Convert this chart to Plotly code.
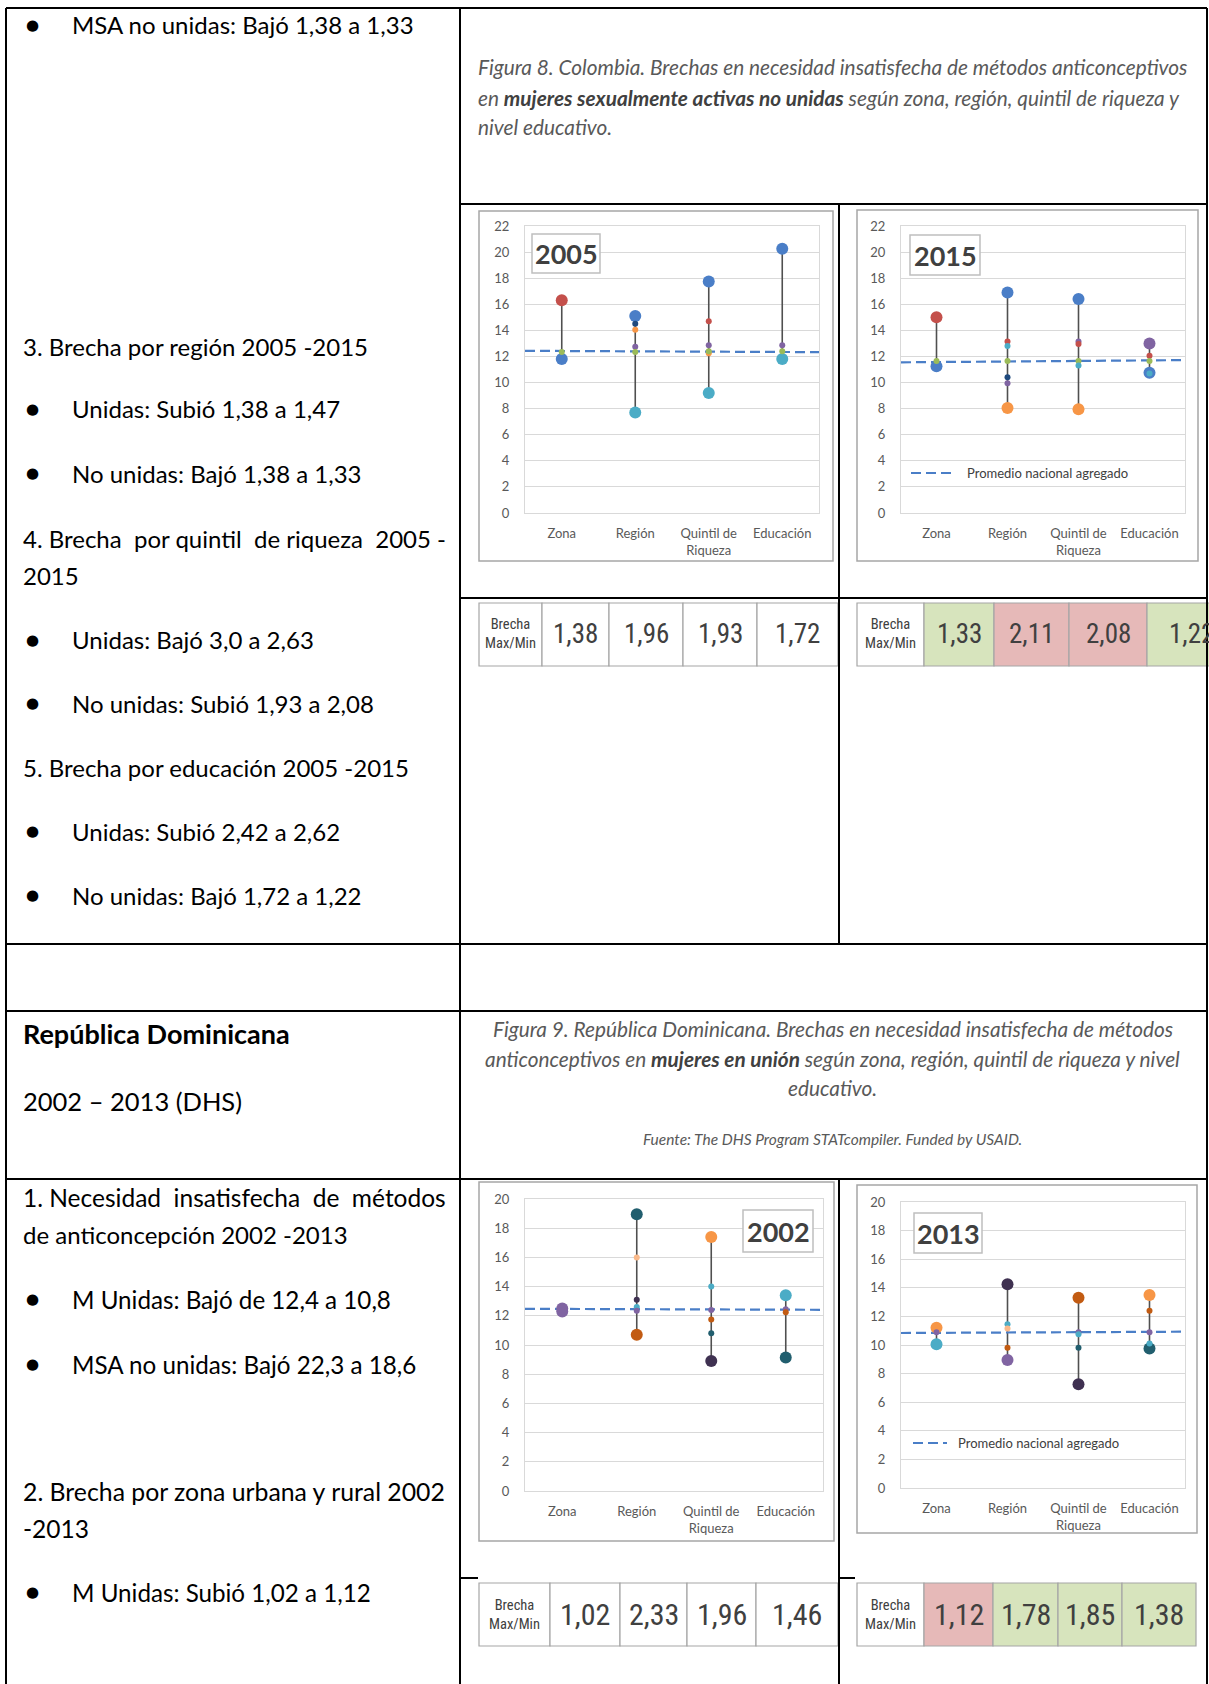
import plotly.graph_objects as go

W, H = 1209, 1684

# ---------------- DATA ----------------
categories = ["Zona", "Región", "Quintil de<br>Riqueza", "Educación"]

# Colombia, mujeres sexualmente activas no unidas (first two values of each list = max / min endpoints)
col2005_zona = [16.3, 11.8, 12.35]
col2005_region = [15.1, 7.7, 14.5, 14.05, 12.75, 12.35]
col2005_quintil = [17.75, 9.2, 14.7, 12.85, 12.25, 12.4]
col2005_educacion = [20.25, 11.8, 12.85, 12.4]
col2005_promedio = [12.43, 12.33]

col2015_zona = [15.0, 11.25, 11.65]
col2015_region = [16.9, 8.05, 13.15, 12.8, 11.65, 10.4, 9.95]
col2015_quintil = [16.4, 7.95, 13.15, 12.95, 11.65, 11.3]
col2015_educacion = [13.0, 10.75, 12.05, 11.65, 10.7]
col2015_promedio = [11.55, 11.72]

# República Dominicana, mujeres en unión
rd2002_zona = [12.5, 12.3]
rd2002_region = [18.95, 10.7, 16.0, 13.1, 12.6, 12.35]
rd2002_quintil = [17.4, 8.9, 14.0, 12.4, 11.75, 10.8]
rd2002_educacion = [13.4, 9.15, 12.45, 12.25]
rd2002_promedio = [12.48, 12.41]

rd2013_zona = [11.2, 10.05, 10.9]
rd2013_region = [14.25, 8.95, 11.45, 11.15, 9.8]
rd2013_quintil = [13.3, 7.25, 10.9, 10.75, 9.8]
rd2013_educacion = [13.5, 9.75, 12.4, 10.9, 10.1]
rd2013_promedio = [10.84, 10.93]

brecha_2005 = ["1,38", "1,96", "1,93", "1,72"]
brecha_2015 = ["1,33", "2,11", "2,08", "1,22"]
brecha_2002 = ["1,02", "2,33", "1,96", "1,46"]
brecha_2013 = ["1,12", "1,78", "1,85", "1,38"]

# ---------------- STYLES ----------------
PAL = {"blue": "#4A7EC7", "red": "#C4504B", "green": "#9BBB59", "purple": "#8064A2",
       "cyan": "#4BACC6", "orange": "#F79646", "navy": "#1F497D", "teal": "#215E6E",
       "dkorange": "#C25B12", "ltorange": "#FAB98A", "dkpurple": "#3F3151"}
sty2005 = [["red", "blue", "green"], ["blue", "cyan", "navy", "orange", "purple", "green"],
           ["blue", "cyan", "red", "purple", "orange", "green"], ["blue", "cyan", "purple", "green"]]
sty2015 = [["red", "blue", "green"], ["blue", "orange", "red", "cyan", "green", "navy", "purple"],
           ["blue", "orange", "purple", "red", "green", "cyan"], ["purple", "blue", "red", "green", "cyan"]]
sty2002 = [["purple", "purple"], ["teal", "dkorange", "ltorange", "dkpurple", "cyan", "purple"],
           ["orange", "dkpurple", "cyan", "purple", "dkorange", "teal"], ["cyan", "teal", "purple", "dkorange"]]
sty2013 = [["orange", "cyan", "purple"], ["dkpurple", "purple", "cyan", "ltorange", "dkorange"],
           ["dkorange", "dkpurple", "purple", "cyan", "teal"], ["orange", "teal", "dkorange", "purple", "cyan"]]
fill_2005 = ["white"] * 4
fill_2015 = ["#D7E4BD", "#E6B9B8", "#E6B9B8", "#D7E4BD"]
fill_2002 = ["white"] * 4
fill_2013 = ["#E6B9B8", "#D7E4BD", "#D7E4BD", "#D7E4BD"]

AVG = "#4A7EC7"
DOC_FONT = "Lato, Carlito, Calibri, sans-serif"
CHART_FONT = "Lato, Carlito, Calibri, sans-serif"
TAB_FONT = "Liberation Sans Narrow, Arial Narrow, Roboto Condensed, Liberation Sans, sans-serif"
NB = "\u00a0"


def fx(x):
    return x / W


def fy(y):
    return 1 - y / H


fig = go.Figure()
shapes = []
annotations = []
layout_axes = {}

charts = [
    ("2005", [col2005_zona, col2005_region, col2005_quintil, col2005_educacion], sty2005, col2005_promedio, 22,
     (525, 819, 226, 513), (479, 211, 833, 561), (532, 234, 600, 273), None),
    ("2015", [col2015_zona, col2015_region, col2015_quintil, col2015_educacion], sty2015, col2015_promedio, 22,
     (901, 1185, 226, 513), (857, 210, 1198, 561), (910, 235, 980, 275), (911, 952, 473, 965)),
    ("2002", [rd2002_zona, rd2002_region, rd2002_quintil, rd2002_educacion], sty2002, rd2002_promedio, 20,
     (525, 823, 1199, 1491), (479, 1182, 834, 1541), (743, 1210, 813, 1252), None),
    ("2013", [rd2013_zona, rd2013_region, rd2013_quintil, rd2013_educacion], sty2013, rd2013_promedio, 20,
     (901, 1185, 1202, 1488), (857, 1185, 1197, 1533), (914, 1213, 982, 1253), (913, 947, 1443, 956)),
]

for k, (year, groups, styles, avg, ymax, plot, frame, box, leg) in enumerate(charts, start=1):
    xa = "x" if k == 1 else f"x{k}"
    ya = "y" if k == 1 else f"y{k}"
    # connectors
    lx, ly = [], []
    for i, g in enumerate(groups):
        lx += [i, i, None]
        ly += [min(g), max(g), None]
    fig.add_trace(go.Scatter(x=lx, y=ly, mode="lines", line=dict(color="#505050", width=1.6),
                             xaxis=xa, yaxis=ya, hoverinfo="skip", showlegend=False))
    # national average
    fig.add_trace(go.Scatter(x=[-0.5, 3.5], y=avg, mode="lines",
                             line=dict(color=AVG, width=2.2, dash="10px,5px"),
                             xaxis=xa, yaxis=ya, hoverinfo="skip", showlegend=False))
    bx, by, bc, sx, sy, sc = [], [], [], [], [], []
    for i, (g, s) in enumerate(zip(groups, styles)):
        for j, (v, c) in enumerate(zip(g, s)):
            if j < 2:
                bx.append(i); by.append(v); bc.append(PAL[c])
            else:
                sx.append(i); sy.append(v); sc.append(PAL[c])
    fig.add_trace(go.Scatter(x=bx, y=by, mode="markers", marker=dict(size=12, color=bc, line=dict(width=0)),
                             xaxis=xa, yaxis=ya, showlegend=False))
    fig.add_trace(go.Scatter(x=sx, y=sy, mode="markers", marker=dict(size=6, color=sc, line=dict(width=0)),
                             xaxis=xa, yaxis=ya, showlegend=False))
    tf = dict(size=13, color="#595959", family=CHART_FONT)
    layout_axes["xaxis" if k == 1 else f"xaxis{k}"] = dict(
        domain=[fx(plot[0]), fx(plot[1])], anchor=ya, range=[-0.5, 3.5],
        tickvals=[0, 1, 2, 3], ticktext=categories, showgrid=False, zeroline=False,
        showline=True, linecolor="#D9D9D9", linewidth=1, mirror=True, ticks="",
        tickfont=tf, ticklabelstandoff=8, fixedrange=True, automargin=False)
    layout_axes["yaxis" if k == 1 else f"yaxis{k}"] = dict(
        domain=[fy(plot[3]), fy(plot[2])], anchor=xa, range=[0, ymax], dtick=2,
        showgrid=True, gridcolor="#D9D9D9", gridwidth=1, zeroline=False,
        showline=True, linecolor="#D9D9D9", linewidth=1, mirror=True, ticks="",
        tickfont=tf, ticklabelstandoff=12, fixedrange=True, automargin=False)
    # chart frame
    shapes.append(dict(type="rect", xref="paper", yref="paper", x0=fx(frame[0]), x1=fx(frame[2]),
                       y0=fy(frame[3]), y1=fy(frame[1]), line=dict(color="#A6A6A6", width=1.5), layer="below"))
    # year box
    shapes.append(dict(type="rect", xref="paper", yref="paper", x0=fx(box[0]), x1=fx(box[2]),
                       y0=fy(box[3]), y1=fy(box[1]), line=dict(color="#BFBFBF", width=1.5),
                       fillcolor="white", layer="above"))
    annotations.append(dict(x=fx((box[0] + box[2]) / 2), y=fy((box[1] + box[3]) / 2), xref="paper", yref="paper",
                            text=f"<b>{year}</b>", showarrow=False, xanchor="center", yanchor="middle",
                            font=dict(size=27, color="#404040", family=CHART_FONT)))
    if leg:
        shapes.append(dict(type="line", xref="paper", yref="paper", x0=fx(leg[0]), x1=fx(leg[1]),
                           y0=fy(leg[2]), y1=fy(leg[2]), line=dict(color=AVG, width=2.2, dash="10px,5px")))
        annotations.append(dict(x=fx(leg[3]), y=fy(leg[2]), xref="paper", yref="paper",
                                text="Promedio nacional agregado", showarrow=False, xanchor="left",
                                yanchor="middle", font=dict(size=13, color="#404040", family=CHART_FONT)))

# ---------------- TABLES ----------------
tables = [
    (brecha_2005, fill_2005, [479, 542, 609, 683, 757, 838], 603, 666, 27),
    (brecha_2015, fill_2015, [857, 924, 994, 1069, 1147, 1235], 603, 666, 27),
    (brecha_2002, fill_2002, [479, 550, 620, 687, 756, 838], 1583, 1646, 30),
    (brecha_2013, fill_2013, [857, 924, 993, 1058, 1122, 1196], 1583, 1646, 30),
]
for vals, fills, xs, y0, y1, fs in tables:
    shapes.append(dict(type="rect", xref="paper", yref="paper", x0=fx(xs[0]), x1=fx(xs[1]),
                       y0=fy(y1), y1=fy(y0), line=dict(color="#A6A6A6", width=1.2), fillcolor="white"))
    annotations.append(dict(x=fx((xs[0] + xs[1]) / 2), y=fy((y0 + y1) / 2), xref="paper", yref="paper",
                            text="Brecha<br>Max/Min", showarrow=False, xanchor="center", yanchor="middle",
                            font=dict(size=14.5, color="#404040", family=TAB_FONT)))
    for i, (v, f) in enumerate(zip(vals, fills)):
        a, b = xs[i + 1], xs[i + 2]
        shapes.append(dict(type="rect", xref="paper", yref="paper", x0=fx(a), x1=fx(b),
                           y0=fy(y1), y1=fy(y0), line=dict(color="#A6A6A6", width=1.2), fillcolor=f))
        annotations.append(dict(x=fx((a + b) / 2), y=fy((y0 + y1) / 2), xref="paper", yref="paper",
                                text=v, showarrow=False, xanchor="center", yanchor="middle",
                                font=dict(size=fs, color="#404040", family=TAB_FONT)))

# ---------------- DOCUMENT TABLE BORDERS ----------------
hlines = [(8, 6, 1207), (204, 460, 1207), (598, 460, 1207), (944, 6, 1207),
          (1011, 6, 1207), (1179, 6, 1207), (1578, 460, 478), (1578, 839, 855)]
vlines = [(6, 8, 1684), (460, 8, 1684), (839, 204, 944), (839, 1179, 1684), (1207, 8, 1684)]
for y, a, b in hlines:
    shapes.append(dict(type="line", xref="paper", yref="paper", x0=fx(a), x1=fx(b), y0=fy(y), y1=fy(y),
                       line=dict(color="black", width=2)))
for x, a, b in vlines:
    shapes.append(dict(type="line", xref="paper", yref="paper", x0=fx(x), x1=fx(x), y0=fy(a), y1=fy(b),
                       line=dict(color="black", width=2)))

# ---------------- DOCUMENT TEXT ----------------
doc_lines = [
    (25, "b", "MSA no unidas: Bajó 1,38 a 1,33", 24),
    (346, "p", "3. Brecha por región 2005 -2015", 24),
    (409, "b", "Unidas: Subió 1,38 a 1,47", 24),
    (473, "b", "No unidas: Bajó 1,38 a 1,33", 24),
    (538, "p", f"4. Brecha {NB}por quintil {NB}de riqueza {NB}2005 -", 24),
    (575, "p", "2015", 24),
    (640, "b", "Unidas: Bajó 3,0 a 2,63", 24),
    (703, "b", "No unidas: Subió 1,93 a 2,08", 24),
    (767, "p", "5. Brecha por educación 2005 -2015", 24),
    (831, "b", "Unidas: Subió 2,42 a 2,62", 24),
    (895, "b", "No unidas: Bajó 1,72 a 1,22", 24),
    (1033, "p", "<b>República Dominicana</b>", 27),
    (1101, "p", "2002 – 2013 (DHS)", 25.5),
    (1197, "p", f"1. Necesidad {NB}insatisfecha {NB}de {NB}métodos", 24.5),
    (1234, "p", "de anticoncepción 2002 -2013", 24),
    (1299, "b", "M Unidas: Bajó de 12,4 a 10,8", 24.2),
    (1364, "b", "MSA no unidas: Bajó 22,3 a 18,6", 24.2),
    (1491, "p", "2. Brecha por zona urbana y rural 2002", 24.8),
    (1528, "p", "-2013", 24.5),
    (1592, "b", "M Unidas: Subió 1,02 a 1,12", 24.2),
]
for y, kind, txt, fs in doc_lines:
    if kind == "b":
        annotations.append(dict(x=fx(32), y=fy(y), xref="paper", yref="paper", text="●", showarrow=False,
                                xanchor="center", yanchor="middle",
                                font=dict(size=15, color="black", family="DejaVu Sans")))
        x0 = 70
    else:
        x0 = 21
    annotations.append(dict(x=fx(x0), y=fy(y), xref="paper", yref="paper", text=txt, showarrow=False,
                            xanchor="left", yanchor="middle",
                            font=dict(size=fs, color="black", family=DOC_FONT)))

cap_font = dict(size=20.8, color="#595959", family=DOC_FONT)
cap1 = ["<i>Figura 8. Colombia. Brechas en necesidad insatisfecha de métodos anticonceptivos</i>",
        "<i>en <b><span style='color:#404040'>mujeres sexualmente activas no unidas</span></b> según zona, región, quintil de riqueza y</i>",
        "<i>nivel educativo.</i>"]
for y, t in zip([67, 97, 127], cap1):
    annotations.append(dict(x=fx(476), y=fy(y), xref="paper", yref="paper", text=t, showarrow=False,
                            xanchor="left", yanchor="middle", font=cap_font))
cap2 = ["<i>Figura 9. República Dominicana. Brechas en necesidad insatisfecha de métodos</i>",
        "<i>anticonceptivos en <b><span style='color:#404040'>mujeres en unión</span></b> según zona, región, quintil de riqueza y nivel</i>",
        "<i>educativo.</i>"]
for y, t in zip([1028, 1058, 1087], cap2):
    annotations.append(dict(x=fx(833), y=fy(y), xref="paper", yref="paper", text=t, showarrow=False,
                            xanchor="center", yanchor="middle", font=cap_font))
annotations.append(dict(x=fx(833), y=fy(1139), xref="paper", yref="paper",
                        text="<i>Fuente: The DHS Program STATcompiler. Funded by USAID.</i>", showarrow=False,
                        xanchor="center", yanchor="middle", font=dict(size=15.5, color="#595959", family=DOC_FONT)))

fig.update_layout(width=W, height=H, margin=dict(l=0, r=0, t=0, b=0, pad=0, autoexpand=False),
                  paper_bgcolor="white", plot_bgcolor="rgba(0,0,0,0)", showlegend=False,
                  shapes=shapes, annotations=annotations,
                  font=dict(family=CHART_FONT), **layout_axes)

pin_to_corner = (
    "var st=document.createElement('style');"
    "st.textContent='html,body{margin:0!important;padding:0!important;overflow:hidden!important;"
    "width:1209px!important;height:1684px!important;}';"
    "document.head.appendChild(st);"
    "var d=document.getElementById('{plot_id}');"
    "if(d){var p=d.parentNode;p.style.position='absolute';p.style.top='0px';p.style.left='0px';"
    "p.style.margin='0';p.style.lineHeight='0';p.style.fontSize='0';"
    "d.style.position='absolute';d.style.top='0px';d.style.left='0px';}"
    "window.scrollTo(0,0);"
)
fig.write_html("out.html", post_script=pin_to_corner, config={"displayModeBar": False})
